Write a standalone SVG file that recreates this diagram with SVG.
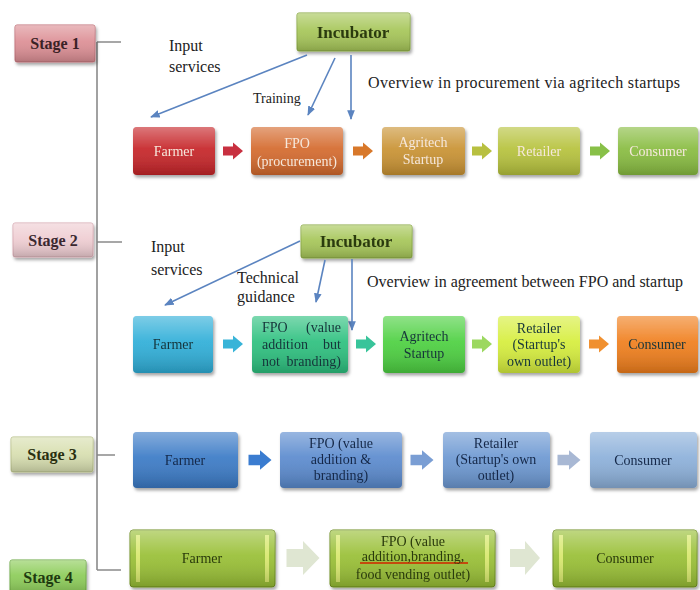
<svg xmlns="http://www.w3.org/2000/svg" xmlns:xlink="http://www.w3.org/1999/xlink" width="700" height="590" viewBox="0 0 700 590" font-family="'Liberation Serif', 'Times New Roman', serif">
<defs>
<linearGradient id="gl" x1="0" y1="0" x2="0" y2="1">
<stop offset="0" stop-color="#fff" stop-opacity="0.38"/>
<stop offset="0.45" stop-color="#fff" stop-opacity="0.08"/>
<stop offset="1" stop-color="#000" stop-opacity="0.18"/>
</linearGradient>
<filter id="sh" x="-10%" y="-10%" width="125%" height="135%">
<feDropShadow dx="1.5" dy="2.5" stdDeviation="1.8" flood-color="#000" flood-opacity="0.35"/>
</filter>
<marker id="ah" viewBox="0 0 10 10" refX="9" refY="5" markerWidth="6" markerHeight="6" orient="auto-start-reverse">
<path d="M0,1 L10,5 L0,9 Z" fill="#5b84c0"/>
</marker>
<path id="ba" d="M-10,-4.5 H0 V-8.5 L10,0 L0,8.5 V4.5 H-10 Z"/>
</defs>
<style>
text{font-family:"Liberation Serif","Times New Roman",serif;}
.lbl{font-size:16px;fill:#222;}
.stg{font-size:16px;font-weight:bold;text-anchor:middle;}
.inc{font-size:17px;font-weight:bold;fill:#2c3a10;text-anchor:middle;}
.nt{font-size:14px;text-anchor:middle;}
.w{fill:#f6e8dc;}
.d2{fill:#16343a;}
.d3{fill:#152848;}
.d4{fill:#2a3a0c;}
.j{font-size:14px;}
.r{text-anchor:end;}
.g{fill:url(#gl);}
.node{filter:url(#sh);}
.con{stroke:#5b84c0;stroke-width:1.6;fill:none;marker-end:url(#ah);}
.tl{stroke:#8a8a8a;stroke-width:1.6;fill:none;}
</style>
<rect width="700" height="590" fill="#fff"/>

<!-- timeline -->
<g id="timeline">
<path class="tl" d="M97,42 V570 M97,42 H121 M97,242 H122 M97,455 H115 M97,570 H121"/>
</g>

<!-- stage labels -->
<g id="stage1"><rect x="15" y="25" width="80" height="37" rx="2" fill="#dc8e94" stroke="#c07078" filter="url(#sh)"/><rect x="15" y="25" width="80" height="37" rx="2" class="g"/><text class="stg" x="55" y="49" fill="#3a2226">Stage 1</text></g>
<g id="stage2"><rect x="13" y="223" width="80" height="34" rx="2" fill="#efcdd2" stroke="#d8aab2" filter="url(#sh)"/><rect x="13" y="223" width="80" height="34" rx="2" class="g"/><text class="stg" x="53" y="246" fill="#3a2830">Stage 2</text></g>
<g id="stage3"><rect x="11" y="437" width="82" height="35" rx="2" fill="#d8dfb0" stroke="#b8c088" filter="url(#sh)"/><rect x="11" y="437" width="82" height="35" rx="2" class="g"/><text class="stg" x="52" y="460" fill="#2a3010">Stage 3</text></g>
<g id="stage4"><rect x="10" y="560" width="76" height="34" rx="2" fill="#8ccc58" stroke="#6aa840" filter="url(#sh)"/><rect x="10" y="560" width="76" height="34" rx="2" class="g"/><text class="stg" x="48" y="583" fill="#1e3a10">Stage 4</text></g>

<!-- incubators -->
<g id="incubator1" class="node"><rect x="297" y="13" width="113" height="38" rx="2" fill="#a6c658" stroke="#88a840"/><rect x="297" y="13" width="113" height="38" rx="2" class="g"/><text class="inc" x="353" y="38">Incubator</text></g>
<g id="incubator2" class="node"><rect x="301" y="225" width="111" height="33" rx="2" fill="#a6c658" stroke="#88a840"/><rect x="301" y="225" width="111" height="33" rx="2" class="g"/><text class="inc" x="356" y="247">Incubator</text></g>

<!-- free labels -->
<g id="labels">
<text class="lbl" x="169" y="51">Input</text>
<text class="lbl" x="169" y="72">services</text>
<text x="253" y="103" font-size="14" fill="#222">Training</text>
<text class="lbl" x="368" y="88" textLength="312" lengthAdjust="spacing">Overview in procurement via  agritech  startups</text>
<text class="lbl" x="151" y="252">Input</text>
<text class="lbl" x="151" y="275">services</text>
<text class="lbl" x="237" y="283">Technical</text>
<text class="lbl" x="237" y="302">guidance</text>
<text class="lbl" x="367" y="287" textLength="316" lengthAdjust="spacing">Overview in agreement between FPO and startup</text>
</g>

<!-- connectors -->
<g id="connectors">
<line class="con" x1="307" y1="55" x2="151" y2="117"/>
<line class="con" x1="335" y1="58" x2="308" y2="115"/>
<line class="con" x1="351" y1="55" x2="351" y2="119"/>
<line class="con" x1="300" y1="241" x2="165" y2="305"/>
<line class="con" x1="325" y1="260" x2="316" y2="302"/>
<line class="con" x1="352" y1="259" x2="352" y2="330"/>
<use xlink:href="#ba" x="233" y="151" fill="#c83040"/>
<use xlink:href="#ba" x="363" y="151" fill="#d8782a"/>
<use xlink:href="#ba" x="482" y="151" fill="#b8c040"/>
<use xlink:href="#ba" x="600" y="151" fill="#88c048"/>
<use xlink:href="#ba" x="233" y="344" fill="#38b4d8"/>
<use xlink:href="#ba" x="366" y="344" fill="#38c49a"/>
<use xlink:href="#ba" x="482" y="344" fill="#9cd860"/>
<use xlink:href="#ba" x="599" y="344" fill="#f09030"/>
<use xlink:href="#ba" x="260" y="460" fill="#3a7cd0" transform="translate(260 460) scale(1.15) translate(-260 -460)"/>
<use xlink:href="#ba" x="422" y="460" fill="#7a9ed4" transform="translate(422 460) scale(1.15) translate(-422 -460)"/>
<use xlink:href="#ba" x="569" y="460" fill="#a8b8d4" transform="translate(569 460) scale(1.15) translate(-569 -460)"/>
<use xlink:href="#ba" x="303" y="558" fill="#dfe6d2" transform="translate(303 558) scale(1.65 2) translate(-303 -558)"/>
<use xlink:href="#ba" x="525" y="558" fill="#dfe6d2" transform="translate(525 558) scale(1.5 2) translate(-525 -558)"/>
</g>

<!-- stage 1 nodes -->
<g id="s1-farmer" class="node"><rect x="133" y="127" width="82" height="48" rx="4" fill="#c62428"/><rect x="133" y="127" width="82" height="48" rx="4" class="g"/><text class="nt w" x="174" y="156">Farmer</text></g>
<g id="s1-fpo" class="node"><rect x="251" y="127" width="92" height="48" rx="4" fill="#d4692c"/><rect x="251" y="127" width="92" height="48" rx="4" class="g"/><text class="nt w" x="297" y="148">FPO</text><text class="nt w" x="297" y="166">(procurement)</text></g>
<g id="s1-agritech" class="node"><rect x="382" y="127" width="83" height="48" rx="4" fill="#c99232"/><rect x="382" y="127" width="83" height="48" rx="4" class="g"/><text class="nt w" x="423" y="147">Agritech</text><text class="nt w" x="423" y="164">Startup</text></g>
<g id="s1-retailer" class="node"><rect x="498" y="127" width="82" height="48" rx="4" fill="#b6c23c"/><rect x="498" y="127" width="82" height="48" rx="4" class="g"/><text class="nt w" x="539" y="156">Retailer</text></g>
<g id="s1-consumer" class="node"><rect x="618" y="127" width="80" height="48" rx="4" fill="#88bc40"/><rect x="618" y="127" width="80" height="48" rx="4" class="g"/><text class="nt w" x="658" y="156">Consumer</text></g>

<!-- stage 2 nodes -->
<g id="s2-farmer" class="node"><rect x="133" y="316" width="80" height="57" rx="4" fill="#2eaed8"/><rect x="133" y="316" width="80" height="57" rx="4" class="g"/><text class="nt d2" x="173" y="349">Farmer</text></g>
<g id="s2-fpo" class="node"><rect x="252" y="316" width="96" height="57" rx="4" fill="#2cc07e"/><rect x="252" y="316" width="96" height="57" rx="4" class="g"/>
<text class="j d2" x="262" y="332">FPO</text><text class="j d2 r" x="341" y="332">(value</text>
<text class="j d2" x="262" y="349">addition</text><text class="j d2 r" x="341" y="349">but</text>
<text class="j d2" x="262" y="366">not</text><text class="j d2 r" x="341" y="366">branding)</text></g>
<g id="s2-agritech" class="node"><rect x="383" y="316" width="82" height="57" rx="4" fill="#4cd040"/><rect x="383" y="316" width="82" height="57" rx="4" class="g"/><text class="nt d2" x="424" y="341">Agritech</text><text class="nt d2" x="424" y="358">Startup</text></g>
<g id="s2-retailer" class="node"><rect x="498" y="316" width="82" height="57" rx="4" fill="#d6ee3c"/><rect x="498" y="316" width="82" height="57" rx="4" class="g"/><text class="nt d2" x="539" y="333">Retailer</text><text class="nt d2" x="539" y="349">(Startup's</text><text class="nt d2" x="539" y="366">own outlet)</text></g>
<g id="s2-consumer" class="node"><rect x="617" y="316" width="81" height="57" rx="4" fill="#f07e1c"/><rect x="617" y="316" width="81" height="57" rx="4" class="g"/><text class="nt d2" x="657" y="349">Consumer</text></g>

<!-- stage 3 nodes -->
<g id="s3-farmer" class="node"><rect x="133" y="432" width="105" height="56" rx="4" fill="#3a7ac6"/><rect x="133" y="432" width="105" height="56" rx="4" class="g"/><text class="nt d3" x="185" y="465">Farmer</text></g>
<g id="s3-fpo" class="node"><rect x="280" y="432" width="122" height="56" rx="4" fill="#5a8ace"/><rect x="280" y="432" width="122" height="56" rx="4" class="g"/><text class="nt d3" x="341" y="448">FPO (value</text><text class="nt d3" x="341" y="464">addition &amp;</text><text class="nt d3" x="341" y="480">branding)</text></g>
<g id="s3-retailer" class="node"><rect x="443" y="432" width="107" height="56" rx="4" fill="#6c98d2"/><rect x="443" y="432" width="107" height="56" rx="4" class="g"/><text class="nt d3" x="496" y="448">Retailer</text><text class="nt d3" x="496" y="464">(Startup's own</text><text class="nt d3" x="496" y="480">outlet)</text></g>
<g id="s3-consumer" class="node"><rect x="590" y="432" width="107" height="56" rx="4" fill="#8cb0da"/><rect x="590" y="432" width="107" height="56" rx="4" class="g"/><text class="nt d3" x="643" y="465">Consumer</text></g>

<!-- stage 4 nodes -->
<g id="s4-farmer" class="node"><rect x="130" y="530" width="145" height="57" rx="3" fill="#98bf34" stroke="#6f8f22"/><rect x="136" y="535" width="4" height="47" fill="#e8f27a" opacity="0.8"/><rect x="265" y="535" width="4" height="47" fill="#e8f27a" opacity="0.8"/><rect x="130" y="530" width="145" height="57" rx="3" class="g"/><text class="nt d4" x="202" y="563">Farmer</text></g>
<g id="s4-fpo" class="node"><rect x="330" y="530" width="165" height="57" rx="3" fill="#98bf34" stroke="#6f8f22"/><rect x="336" y="535" width="4" height="47" fill="#e8f27a" opacity="0.8"/><rect x="485" y="535" width="4" height="47" fill="#e8f27a" opacity="0.8"/><rect x="330" y="530" width="165" height="57" rx="3" class="g"/><line x1="360" y1="563" x2="468" y2="563" stroke="#c44a10" stroke-width="2"/><text class="nt d4" x="413" y="546">FPO (value</text><text class="nt d4" x="413" y="561">addition,branding,</text><text class="nt d4" x="413" y="579">food vending outlet)</text></g>
<g id="s4-consumer" class="node"><rect x="553" y="530" width="144" height="57" rx="3" fill="#98bf34" stroke="#6f8f22"/><rect x="559" y="535" width="4" height="47" fill="#e8f27a" opacity="0.8"/><rect x="687" y="535" width="4" height="47" fill="#e8f27a" opacity="0.8"/><rect x="553" y="530" width="144" height="57" rx="3" class="g"/><text class="nt d4" x="625" y="563">Consumer</text></g>
</svg>
